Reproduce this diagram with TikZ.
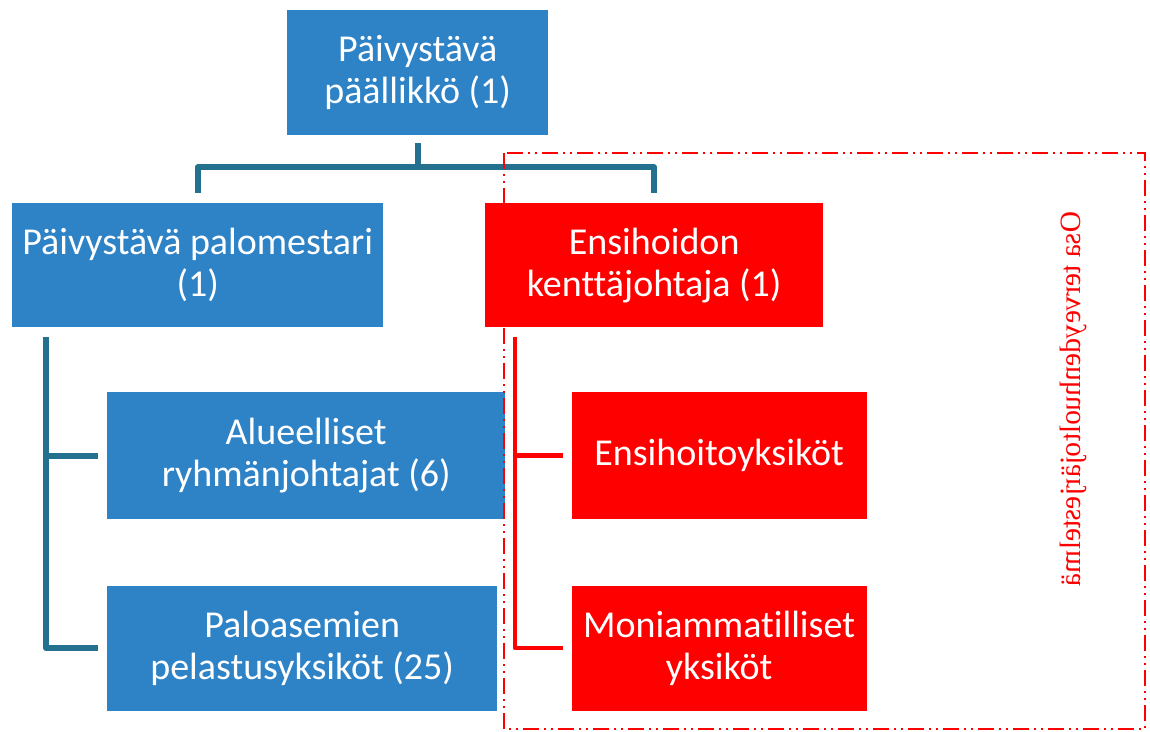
\documentclass[tikz,border=0pt]{standalone}
\usepackage{fontspec}
\setmainfont{Carlito}[Ligatures=NoCommon]
\newfontfamily\osafont{Liberation Serif}
\usetikzlibrary{positioning}
\definecolor{boxblue}{RGB}{46,130,198}
\definecolor{linkblue}{RGB}{36,113,143}
\definecolor{boxred}{RGB}{255,0,0}
\tikzstyle{unit} = [inner sep=0pt, anchor=north west, align=center, text=white, font=\fontsize{38}{42}\selectfont]
\tikzstyle{blueunit} = [unit, fill=boxblue]
\tikzstyle{redunit} = [unit, fill=boxred]
\tikzstyle{bluelink} = [draw=linkblue, line width=6pt, line join=round]
\tikzstyle{redlink} = [draw=boxred, line width=4.5pt, line join=round]
\tikzstyle{scopebox} = [draw=boxred, line width=2.5pt, dash pattern=on 16pt off 5pt on 2pt off 5pt on 2pt off 5pt]

\begin{document}
\begin{tikzpicture}[x=1pt, y=-1pt]
		\useasboundingbox (0,0) rectangle (1150,731);
		% Nodes
		\node[blueunit, minimum width=261pt, minimum height=125pt] (top) at (287,10) {Päivystävä\\päällikkö (1)};
		\node[blueunit, minimum width=371pt, minimum height=124pt] (pal) at (12,203) {Päivystävä palomestari\\(1)};
		\node[redunit, minimum width=338pt, minimum height=124pt] (ens) at (485,203) {Ensihoidon\\kenttäjohtaja (1)};
		\node[blueunit, minimum width=398pt, minimum height=127pt] (alue) at (107,392) {Alueelliset\\ryhmänjohtajat (6)};
		\node[blueunit, minimum width=390pt, minimum height=125pt] (palo) [below=66pt of alue.south west, anchor=north west] {Paloasemien\\pelastusyksiköt (25)};
		\node[redunit, minimum width=295pt, minimum height=127pt] (ensy) [right=66pt of alue.east] {Ensihoitoyksiköt};
		\node[redunit, minimum width=295pt, minimum height=125pt] (moni) [below=66pt of ensy] {Moniammatilliset\\yksiköt};
		%Links
		\draw[bluelink] ([yshift=-8pt]top.south) -- ++(0,24) coordinate (fork);
		\draw[bluelink] ([yshift=10pt]pal.north) |- (fork) -| ([yshift=10pt]ens.north);
		\coordinate (palstem) at ([shift={(34pt,-10pt)}]pal.south west);
		\draw[bluelink] (palstem) |- ([xshift=-9pt]palo.west);
		\draw[bluelink] (palstem |- alue.west) -- ([xshift=-9pt]alue.west);
		\coordinate (ensstem) at ([shift={(30pt,-10pt)}]ens.south west);
		\draw[redlink] (ensstem) |- ([xshift=-8pt]moni.west);
		\draw[redlink] (ensstem |- ensy.west) -- ([xshift=-8pt]ensy.west);
		% Health care part
		\draw[scopebox] (504,153) rectangle (1145,729);
		\node[text=boxred, font=\osafont\fontsize{29.5}{31}\selectfont, rotate=-90] (osa) at (1073,399) {\scalebox{1}[-1]{Osa terveydenhuoltojärjestelmä}};
	\end{tikzpicture}
\end{document}
